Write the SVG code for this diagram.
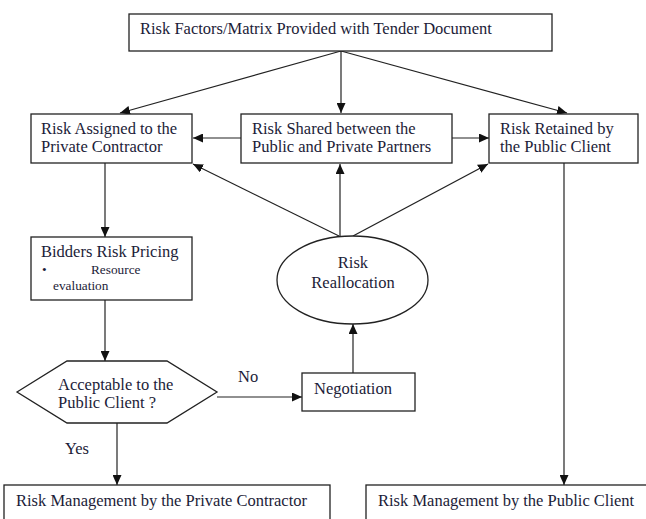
<svg xmlns="http://www.w3.org/2000/svg" width="646" height="519" viewBox="0 0 646 519">
<defs>
<marker id="arr" markerUnits="userSpaceOnUse" markerWidth="11" markerHeight="9" refX="10" refY="4.5" orient="auto">
<path d="M0,0 L10,4.5 L0,9 z" fill="#111"/>
</marker>
<style>
.box{fill:#fff;stroke:#222;stroke-width:1.3}
.t{font-family:"Liberation Serif","Times New Roman",serif;font-size:16.5px;fill:#1c1c38}
.s{font-size:13.3px}
.c{fill:none;stroke:#222;stroke-width:1.2}
.a{marker-end:url(#arr)}
</style>
</defs>
<rect width="646" height="519" fill="#fff"/>
<g id="connectors">
<line class="c a" x1="341" y1="51" x2="120" y2="113"/>
<line class="c a" x1="341" y1="51" x2="341" y2="113"/>
<line class="c a" x1="341" y1="51" x2="567" y2="113"/>
<line class="c a" x1="241" y1="138" x2="193" y2="138"/>
<line class="c a" x1="452" y1="138" x2="489" y2="138"/>
<line class="c a" x1="339" y1="236" x2="193" y2="164"/>
<line class="c a" x1="340" y1="236" x2="340" y2="164"/>
<line class="c a" x1="353" y1="236" x2="488" y2="164"/>
<line class="c a" x1="105" y1="163" x2="105" y2="237"/>
<line class="c a" x1="105" y1="300" x2="105" y2="361"/>
<line class="c a" x1="217" y1="397" x2="302" y2="397"/>
<line class="c a" x1="353" y1="373" x2="353" y2="324"/>
<line class="c a" x1="117" y1="423" x2="117" y2="485"/>
<line class="c a" x1="564" y1="163" x2="564" y2="485"/>
<text class="t" x="238" y="382">No</text>
<text class="t" x="65" y="454">Yes</text>
</g>
<g id="top">
<rect class="box" x="129" y="14" width="423" height="37"/>
<text class="t" x="140" y="34">Risk Factors/Matrix Provided with Tender Document</text>
</g>
<g id="assigned">
<rect class="box" x="31" y="114" width="161" height="49"/>
<text class="t" x="41" y="134">Risk Assigned to the</text>
<text class="t" x="41" y="152">Private Contractor</text>
</g>
<g id="shared">
<rect class="box" x="241" y="114" width="211" height="49"/>
<text class="t" x="252" y="134">Risk Shared between the</text>
<text class="t" x="252" y="152">Public and Private Partners</text>
</g>
<g id="retained">
<rect class="box" x="489" y="114" width="149" height="49"/>
<text class="t" x="500" y="134">Risk Retained by</text>
<text class="t" x="500" y="152">the Public Client</text>
</g>
<g id="bidders">
<rect class="box" x="31" y="237" width="161" height="63"/>
<text class="t" x="41" y="257">Bidders Risk Pricing</text>
<text class="t s" x="42" y="274">•</text>
<text class="t s" x="91" y="274">Resource</text>
<text class="t s" x="53" y="290">evaluation</text>
</g>
<g id="reallocation">
<ellipse class="box" cx="352.5" cy="280" rx="75.5" ry="44"/>
<text class="t" x="353" y="268" text-anchor="middle">Risk</text>
<text class="t" x="353" y="288" text-anchor="middle">Reallocation</text>
</g>
<g id="acceptable">
<polygon class="box" points="17,392 67,361 167,361 217,392 167,423 67,423"/>
<text class="t" x="58" y="390">Acceptable to the</text>
<text class="t" x="58" y="408">Public Client ?</text>
</g>
<g id="negotiation">
<rect class="box" x="302" y="373" width="113" height="38"/>
<text class="t" x="314" y="394">Negotiation</text>
</g>
<g id="mgmt-private">
<rect class="box" x="4" y="485" width="326" height="40"/>
<text class="t" x="16" y="506">Risk Management by the Private Contractor</text>
</g>
<g id="mgmt-public">
<rect class="box" x="366" y="485" width="290" height="40"/>
<text class="t" x="378" y="506">Risk Management by the Public Client</text>
</g>
</svg>
